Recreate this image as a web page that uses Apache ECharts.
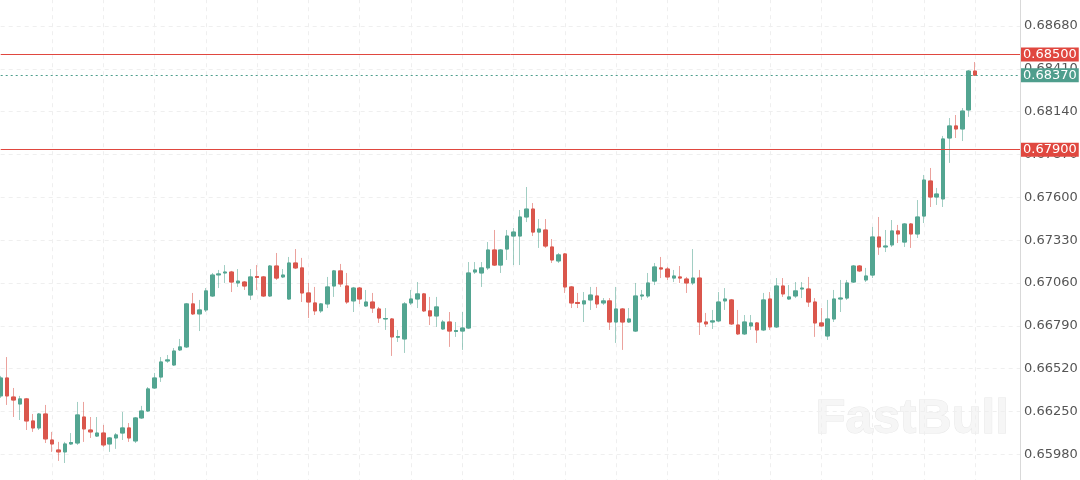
<!DOCTYPE html>
<html><head><meta charset="utf-8">
<script src="https://cdn.jsdelivr.net/npm/echarts@6/dist/echarts.min.js"></script>
<style>html,body{margin:0;padding:0;background:#fff}#c{width:1080px;height:480px}</style>
</head><body><div id="c"></div>
<script>
const openP = [0.66348,0.66461,0.66341,0.66297,0.66329,0.6619,0.66146,0.66234,0.6607,0.66007,
 0.65995,0.66045,0.66051,0.66215,0.66133,0.66095,0.66114,0.66045,0.66083,0.66114,
 0.66146,0.66064,0.66209,0.66253,0.66398,0.66467,0.66568,0.66543,0.66638,0.66657,
 0.66928,0.66865,0.6689,0.66978,0.67111,0.67123,0.67129,0.6706,0.67066,0.66984,
 0.67101,0.67098,0.66978,0.67167,0.67098,0.66959,0.67186,0.67155,0.66997,0.66934,
 0.66884,0.66928,0.67041,0.67136,0.67041,0.66947,0.67028,0.66915,0.6694,0.66896,
 0.66833,0.66833,0.66718,0.66707,0.66934,0.66959,0.66991,0.66884,0.66852,0.6677,
 0.66814,0.66754,0.66757,0.66776,0.67129,0.67123,0.67155,0.67268,0.67173,0.67274,
 0.67356,0.67356,0.67476,0.67526,0.67381,0.67394,0.67287,0.67199,0.67243,0.67035,
 0.66937,0.66928,0.66953,0.66978,0.66934,0.66947,0.66814,0.66896,0.66814,0.66757,
 0.66978,0.66978,0.67072,0.67155,0.67148,0.67091,0.67098,0.67085,0.6706,0.67091,
 0.66814,0.66814,0.66821,0.66947,0.66953,0.66795,0.66739,0.66789,0.66808,0.66764,
 0.66959,0.66783,0.67041,0.66959,0.66978,0.67022,0.67022,0.6694,0.66808,0.66726,
 0.66833,0.66959,0.66965,0.67066,0.67167,0.67079,0.6711,0.6735,0.67287,0.673,
 0.67388,0.67318,0.67432,0.67369,0.67482,0.67703,0.67602,0.6759,0.67974,0.6805,
 0.68031,0.68151,0.68396];
const closeP = [0.66461,0.66348,0.66322,0.66329,0.6619,0.66146,0.66234,0.66077,0.66045,0.65995,
 0.66045,0.66054,0.66228,0.6614,0.66121,0.66114,0.66039,0.66083,0.66102,0.66146,
 0.66083,0.66209,0.66253,0.66392,0.66461,0.66562,0.66575,0.66631,0.66657,0.66928,
 0.66865,0.6689,0.6701,0.6711,0.67117,0.67129,0.67066,0.67072,0.67041,0.67098,
 0.67095,0.66978,0.67167,0.67091,0.6711,0.67186,0.67155,0.66997,0.6694,0.66884,
 0.66928,0.67035,0.67136,0.67054,0.6694,0.67028,0.66959,0.6694,0.66902,0.66839,
 0.66836,0.6672,0.66722,0.66928,0.66959,0.66991,0.66884,0.66852,0.66909,0.66814,
 0.66757,0.6676,0.66776,0.67123,0.67142,0.67155,0.67268,0.67173,0.67268,0.67356,
 0.67381,0.67476,0.67526,0.67381,0.674,0.67293,0.67205,0.67237,0.67035,0.66934,
 0.66931,0.66947,0.66984,0.66928,0.66947,0.66814,0.66896,0.66814,0.66833,0.66978,
 0.66984,0.6706,0.67161,0.67148,0.67098,0.67104,0.67091,0.6706,0.67091,0.66814,
 0.66802,0.66821,0.6694,0.66959,0.66802,0.66739,0.66814,0.66808,0.66764,0.66953,
 0.66783,0.67041,0.66991,0.66972,0.6701,0.67028,0.6694,0.66808,0.66789,0.66833,
 0.66959,0.66965,0.6706,0.67167,0.67136,0.67104,0.6735,0.67287,0.67293,0.67388,
 0.67369,0.67432,0.67369,0.67476,0.67709,0.67602,0.67621,0.67968,0.6805,0.68031,
 0.68144,0.68396,0.6837];
const lowP = [0.66335,0.66291,0.66215,0.66196,0.66133,0.66121,0.66133,0.66051,0.65995,0.65938,
 0.65925,0.66039,0.66039,0.66058,0.66083,0.66089,0.66026,0.65995,0.66014,0.6607,
 0.66058,0.66051,0.66203,0.66247,0.66392,0.66436,0.66556,0.66537,0.66631,0.6665,
 0.66858,0.66757,0.66877,0.66972,0.67028,0.6706,0.67003,0.67035,0.67016,0.66953,
 0.67016,0.66972,0.66972,0.67079,0.67091,0.66953,0.67148,0.6694,0.66839,0.66858,
 0.66871,0.66902,0.66972,0.67035,0.66928,0.66877,0.66928,0.66909,0.66871,0.66808,
 0.66764,0.666,0.66688,0.66619,0.66921,0.66902,0.66877,0.66795,0.66783,0.66764,
 0.66657,0.6672,0.66638,0.6677,0.67117,0.67035,0.67142,0.67167,0.67123,0.67205,
 0.67173,0.67173,0.67444,0.67356,0.67281,0.67281,0.67186,0.67186,0.66997,0.66902,
 0.66902,0.66814,0.6689,0.66902,0.66921,0.66764,0.66682,0.66638,0.66808,0.66751,
 0.66953,0.66965,0.67047,0.67091,0.67079,0.67066,0.6706,0.66997,0.67047,0.66732,
 0.66783,0.6677,0.66814,0.6689,0.66795,0.66732,0.66732,0.66764,0.66682,0.66757,
 0.66764,0.66776,0.66972,0.66953,0.66965,0.66965,0.66909,0.6672,0.66783,0.66701,
 0.66814,0.66877,0.66953,0.6706,0.67129,0.67066,0.67091,0.67237,0.67255,0.67287,
 0.67312,0.67287,0.67281,0.67344,0.67438,0.67539,0.67552,0.67539,0.67817,0.67974,
 0.67955,0.68107,0.68366];
const highP = [0.66474,0.66593,0.66398,0.66348,0.66335,0.66234,0.6624,0.66291,0.66121,0.66058,
 0.66058,0.66114,0.6631,0.6631,0.66215,0.66215,0.66165,0.66089,0.66114,0.66247,
 0.66177,0.66215,0.66285,0.66404,0.66493,0.66593,0.66606,0.6665,0.66707,0.66934,
 0.66997,0.66953,0.67028,0.67123,0.67142,0.67173,0.67136,0.67148,0.67072,0.67148,
 0.67173,0.67104,0.67173,0.67249,0.67148,0.67224,0.67274,0.67218,0.6706,0.67035,
 0.66934,0.67098,0.67142,0.6718,0.67123,0.67035,0.67035,0.67016,0.66997,0.66909,
 0.66902,0.66839,0.66764,0.6694,0.67016,0.67066,0.66997,0.66972,0.66972,0.66827,
 0.66877,0.66814,0.66877,0.67192,0.67192,0.67192,0.67318,0.67394,0.67274,0.67394,
 0.67407,0.6752,0.67665,0.67564,0.67463,0.67463,0.67337,0.67249,0.67249,0.67041,
 0.66997,0.67003,0.67035,0.67035,0.66965,0.66965,0.67035,0.66902,0.66902,0.6706,
 0.67016,0.67123,0.67186,0.67224,0.67161,0.67142,0.67167,0.67098,0.67274,0.67142,
 0.66871,0.6689,0.67003,0.67028,0.66959,0.6689,0.66858,0.66858,0.66814,0.66997,
 0.67003,0.67091,0.67091,0.67047,0.67066,0.67066,0.67098,0.66965,0.66902,0.66953,
 0.67016,0.67079,0.67079,0.67173,0.67173,0.67155,0.67413,0.67476,0.67394,0.67457,
 0.67426,0.67438,0.67438,0.67583,0.67741,0.67785,0.67659,0.67987,0.681,0.68119,
 0.68163,0.68403,0.68453];
const slotCount = 160;
const categories = Array.from({length: slotCount}, (_, i) => 'K' + (i + 1));
const resistanceLevels = [0.685, 0.679];
const lastPrice = 0.6837;
const yMin = 0.6571, yMax = 0.6895, yStep = 0.0027;
const watermark = 'FastBull';

const UP = '#53a591', DOWN = '#da564c';
const UP_W = 'rgba(83,165,145,0.55)', DOWN_W = 'rgba(218,86,76,0.55)';
const fmt = v => Number(v).toFixed(5);

const wickData = openP.map((o, i) => [o, closeP[i], lowP[i], highP[i]]);
const bodyData = openP.map((o, i) => [o, closeP[i], Math.min(o, closeP[i]), Math.max(o, closeP[i])]);

const chart = echarts.init(document.getElementById('c'), null, {renderer: 'canvas'});
chart.setOption({
  animation: false,
  backgroundColor: '#ffffff',
  grid: {left: 0.7, right: 60, top: -16.8, bottom: -17.1, containLabel: false, outerBoundsMode: 'none'},
  xAxis: {
    type: 'category', data: categories, boundaryGap: false,
    axisLine: {show: false}, axisTick: {show: false}, axisLabel: {show: false},
    splitLine: {show: true, interval: (idx) => idx > 0 && idx % 8 === 0,
      lineStyle: {color: '#efefef', type: [4, 4], width: 1}}
  },
  yAxis: {
    type: 'value', position: 'right', min: yMin, max: yMax, interval: yStep, scale: true,
    axisLine: {show: true, lineStyle: {color: '#d9d9d9', width: 1}},
    axisTick: {show: false},
    axisLabel: {formatter: fmt, color: '#555', fontSize: 13, fontFamily: 'DejaVu Sans', margin: 4},
    splitLine: {show: true, lineStyle: {color: '#efefef', type: [4, 4], width: 1}}
  },
  graphic: [{
    type: 'text', left: 815, top: 394, z: 0, silent: true,
    style: {text: watermark, font: 'bold 49px "Liberation Sans"', fill: '#f6f6f6', stroke: '#e8e8e8', lineWidth: 1}
  }],
  series: [
    {
      type: 'candlestick', data: wickData, barWidth: 4, clip: false, silent: true,
      itemStyle: {color: 'rgba(0,0,0,0)', color0: 'rgba(0,0,0,0)', borderColor: UP_W, borderColor0: DOWN_W, borderWidth: 1}
    },
    {
      type: 'candlestick', data: bodyData, barWidth: 4, clip: false, silent: true,
      itemStyle: {color: UP, color0: DOWN, borderColor: UP, borderColor0: DOWN, borderWidth: 1},
      markLine: {
        silent: true, symbol: ['none', 'none'], animation: false, precision: 5,
        data: [
          ...resistanceLevels.map(v => ({yAxis: v, lineStyle: {color: '#e0473f', width: 1, type: 'solid'},
            label: {backgroundColor: '#e0473f'}})),
          {yAxis: lastPrice, lineStyle: {color: '#4f9e8d', width: 1, type: [2, 3]},
            label: {backgroundColor: '#4f9e8d'}}
        ],
        label: {show: true, position: 'end', distance: 1, formatter: p => fmt(p.value),
          color: '#ffffff', fontSize: 13, fontFamily: 'DejaVu Sans', padding: [1, 2, 0, 2]}
      }
    }
  ]
});
</script></body></html>
